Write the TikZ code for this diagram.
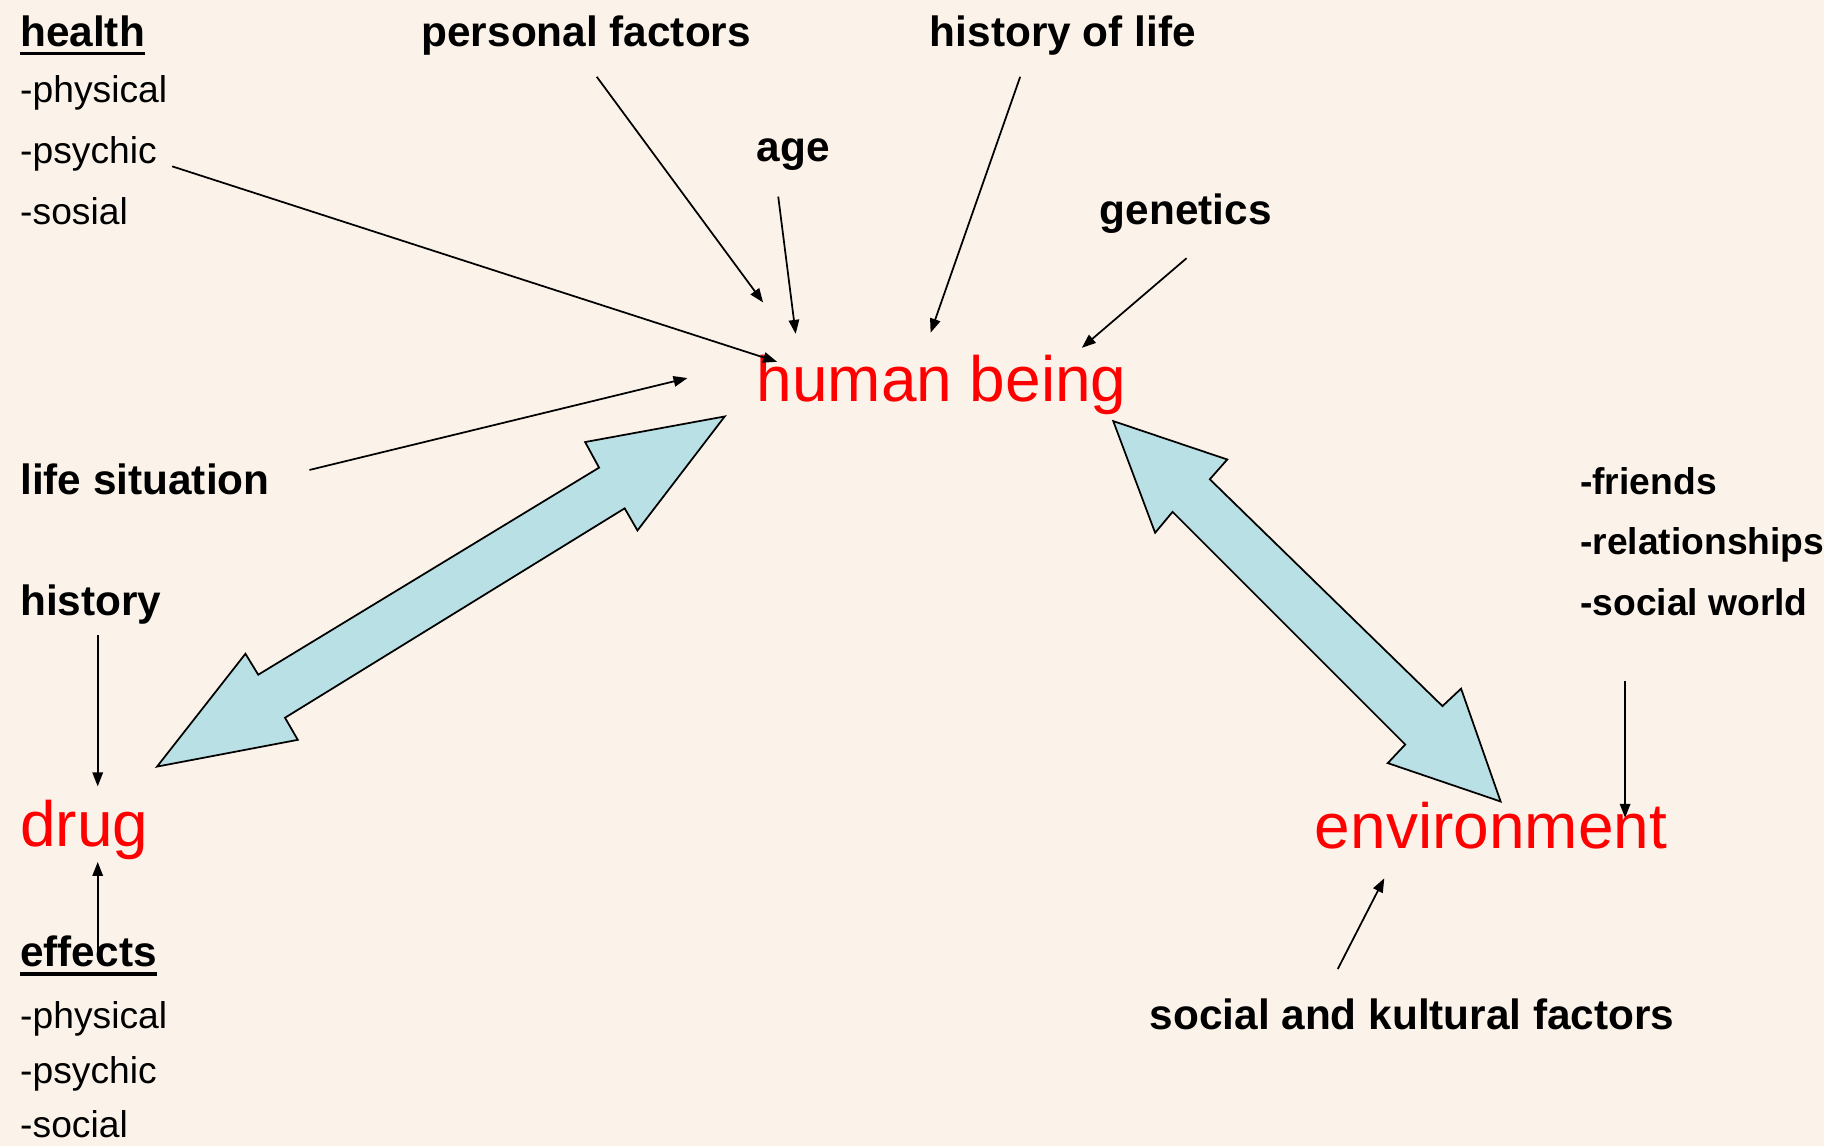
\documentclass[tikz,border=0pt]{standalone}
\usepackage{fontspec}
\setmainfont{Liberation Sans}
\usetikzlibrary{arrows.meta, positioning, calc}
\definecolor{paperbg}{RGB}{251, 243, 234}
\definecolor{blockblue}{RGB}{185, 224, 228}
\definecolor{keyred}{RGB}{255, 0, 0}

\begin{document}
\begin{tikzpicture}[x=0.5pt, y=-0.5pt,
  lbl/.style={font=\fontsize{18.2}{22}\selectfont\bfseries, anchor=base west, inner sep=0pt},
  item/.style={font=\fontsize{16}{19}\selectfont, anchor=base west, inner sep=0pt},
  bolditem/.style={font=\fontsize{16}{19}\selectfont\bfseries, anchor=base west, inner sep=0pt},
  key/.style={font=\fontsize{27.5}{33}\selectfont, text=keyred, anchor=base west, inner sep=0pt},
  feed/.style={line width=0.75pt, -{Triangle[length=6pt, width=4.5pt]}},
  block/.style={draw=black, line width=0.75pt, fill=blockblue, line join=miter}]

  % Background
  \fill[paperbg] (0,0) rectangle (1568,985);
  \useasboundingbox (0,0) rectangle (1568,985);

  % Health block (top left)
  \node[lbl] (health) at (17, 40) {health};
  \draw[line width=1.6pt] ([yshift=-3pt]health.base west) -- ([yshift=-3pt]health.base east);
  \foreach \txt [count=\i] in {-physical, -psychic, -sosial} {
    \node[item] (health-\i) at (17, 35.5+52.5*\i) {\txt};
  }

  % Factors around the human being
  \node[lbl] (pers) at (362, 40) {personal factors};
  \node[lbl] (lifehist) at (799, 40) {history of life};
  \node[lbl] (age) at (650, 139) {age};
  \node[lbl] (genetics) at (945, 193) {genetics};
  \node[lbl] (lifesit) at (17, 425) {life situation};

  % The three key words
  \node[key] (human) at (650, 345) {human being};
  \node[key] (drug) at (17, 728) {drug};
  \node[key] (env) at (1130, 729) {environment};

  % Drug: history and effects
  \node[lbl] (history) at (17, 529) {history};
  \node[lbl] (effects) at (17, 831) {effects};
  \draw[line width=1.6pt] ([yshift=-3pt]effects.base west) -- ([yshift=-3pt]effects.base east);
  \foreach \txt [count=\i] in {-physical, -psychic, -social} {
    \node[item] (effects-\i) at (17, 837+47*\i) {\txt};
  }

  % Environment: social world and culture
  \foreach \txt [count=\i] in {-friends, -relationships, -social world} {
    \node[bolditem] (social-\i) at (1358, 373+52*\i) {\txt};
  }
  \node[lbl] (culture) at (988, 885) {social and kultural factors};

  % Arrow ends
  \coordinate (health-out) at (148, 143);
  \coordinate (pers-out) at (513, 66);
  \coordinate (age-out) at (669, 169);
  \coordinate (lifehist-out) at (877, 66);
  \coordinate (genetics-out) at (1020, 222);
  \coordinate (lifesit-out) at (266, 404);
  \coordinate (history-out) at (84, 546);
  \coordinate (effects-out) at (84, 818);
  \coordinate (social-out) at (1397, 585);
  \coordinate (culture-out) at (1150, 833);

  \coordinate (human-in1) at (668, 311);
  \coordinate (human-in2) at (656, 260);
  \coordinate (human-in3) at (684, 287);
  \coordinate (human-in4) at (800, 286);
  \coordinate (human-in5) at (930, 299);
  \coordinate (human-in6) at (591, 325);
  \coordinate (drug-in1) at (84, 676);
  \coordinate (drug-in2) at (84, 741);
  \coordinate (env-in1) at (1397, 703);
  \coordinate (env-in2) at (1190, 755);

  % Thin arrows
  \draw[feed] (health-out) -- (human-in1);
  \draw[feed] (pers-out) -- (human-in2);
  \draw[feed] (age-out) -- (human-in3);
  \draw[feed] (lifehist-out) -- (human-in4);
  \draw[feed] (genetics-out) -- (human-in5);
  \draw[feed] (lifesit-out) -- (human-in6);
  \draw[feed] (history-out) -- (drug-in1);
  \draw[feed] (effects-out) -- (drug-in2);
  \draw[feed] (social-out) -- (env-in1);
  \draw[feed] (culture-out) -- (env-in2);

  % Block arrows
  \draw[block] (623, 358) -- (548, 456) -- (537, 437) -- (245, 617) -- (256, 636)
    -- (135, 659) -- (211, 562) -- (222, 580) -- (515, 402) -- (503, 380) -- cycle;
  \draw[block] (957, 362) -- (1055, 395) -- (1040, 412) -- (1240, 607) -- (1256, 592)
    -- (1290, 689) -- (1193, 656) -- (1208, 640) -- (1008, 440) -- (993, 458) -- cycle;
\end{tikzpicture}
\end{document}
